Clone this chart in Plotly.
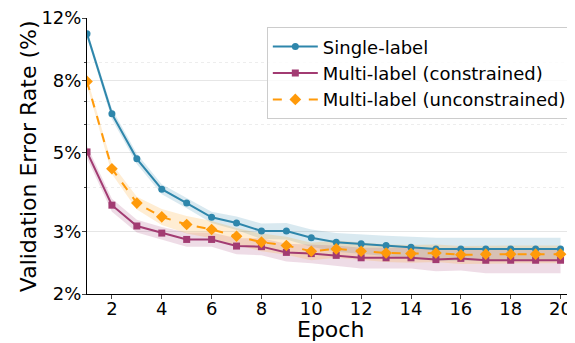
import math
import plotly.graph_objects as go

epochs = list(range(1, 21))

single_label = [10.83, 6.44, 4.81, 3.95, 3.61, 3.29, 3.17, 3.01, 3.01, 2.88,
                2.80, 2.77, 2.74, 2.71, 2.68, 2.68, 2.68, 2.68, 2.68, 2.68]
single_std = [0.25, 0.22, 0.16, 0.13, 0.12, 0.12, 0.14, 0.15, 0.16, 0.16,
              0.17, 0.17, 0.18, 0.19, 0.2, 0.2, 0.2, 0.2, 0.2, 0.2]

multi_con = [5.03, 3.56, 3.11, 2.97, 2.85, 2.85, 2.73, 2.72, 2.62, 2.60,
             2.57, 2.53, 2.53, 2.53, 2.50, 2.52, 2.49, 2.49, 2.49, 2.49]
multi_con_std = [0.2, 0.15, 0.13, 0.12, 0.13, 0.13, 0.14, 0.15, 0.15, 0.16,
                 0.17, 0.17, 0.17, 0.17, 0.18, 0.19, 0.2, 0.2, 0.2, 0.2]

multi_uncon = [7.95, 4.51, 3.61, 3.30, 3.14, 3.04, 2.91, 2.80, 2.74, 2.64,
               2.68, 2.64, 2.61, 2.60, 2.61, 2.58, 2.59, 2.59, 2.59, 2.59]
multi_uncon_std = [0.2, 0.15, 0.15, 0.17, 0.18, 0.17, 0.16, 0.16, 0.16, 0.15,
                   0.15, 0.15, 0.15, 0.15, 0.15, 0.15, 0.15, 0.15, 0.15, 0.15]

y_major = [2, 3, 5, 8, 12]
y_major_text = ["2%", "3%", "5%", "8%", "12%"]
y_minor = [4, 6, 7, 9]
x_ticks = [2, 4, 6, 8, 10, 12, 14, 16, 18, 20]

series = [
    ("Single-label", single_label, single_std, "#2E86AB", "circle", 7, "solid"),
    ("Multi-label (constrained)", multi_con, multi_con_std, "#A23B72", "square", 7, "solid"),
    ("Multi-label (unconstrained)", multi_uncon, multi_uncon_std, "#FF9A0A", "diamond", 9, "dash"),
]

def rgba(hexc, a):
    h = hexc.lstrip("#")
    r, g, b = int(h[0:2], 16), int(h[2:4], 16), int(h[4:6], 16)
    return f"rgba({r},{g},{b},{a})"

fig = go.Figure()
for name, mean, std, color, sym, msize, dash in series:
    upper = [m + s for m, s in zip(mean, std)]
    lower = [m - s for m, s in zip(mean, std)]
    fig.add_trace(go.Scatter(x=epochs, y=upper, mode="lines", line=dict(width=0),
                             showlegend=False, hoverinfo="skip"))
    fig.add_trace(go.Scatter(x=epochs, y=lower, mode="lines", line=dict(width=0),
                             fill="tonexty", fillcolor=rgba(color, 0.18),
                             showlegend=False, hoverinfo="skip"))
for name, mean, std, color, sym, msize, dash in series:
    fig.add_trace(go.Scatter(x=epochs, y=mean, mode="lines+markers", name=name,
                             line=dict(color=color, width=2, dash=dash),
                             marker=dict(symbol=sym, size=msize, color=color)))

fig.update_layout(
    width=575, height=343,
    margin=dict(l=79, r=10, t=9.5, b=57, autoexpand=False),
    paper_bgcolor="white", plot_bgcolor="white",
    font=dict(family="DejaVu Sans", size=18, color="black"),
    legend=dict(x=0.37, y=0.966, xanchor="left", yanchor="top", traceorder="normal",
                bgcolor="rgba(255,255,255,0.8)", bordercolor="#cccccc", borderwidth=1,
                font=dict(size=18), tracegroupgap=0, itemwidth=45),
    showlegend=True,
    annotations=[
        dict(text="Epoch", xref="paper", yref="paper", x=0.5, y=-0.130,
             xanchor="center", yanchor="middle", showarrow=False, font=dict(size=22)),
        dict(text="Validation Error Rate (%)", xref="paper", yref="paper",
             x=-0.121, y=0.5, xanchor="center", yanchor="middle", textangle=-90,
             showarrow=False, font=dict(size=22)),
    ],
)
fig.update_xaxes(
    range=[1, 20.5], tickvals=x_ticks, ticks="outside", ticklen=4, tickwidth=1,
    showline=True, linecolor="black", linewidth=1, showgrid=False, zeroline=False,
    tickfont=dict(size=18), automargin=False, ticklabelstandoff=-6,
    ticklabeloverflow="allow",
)
fig.update_yaxes(
    type="log", range=[math.log10(2) - 1e-5, math.log10(12) + 1e-5],
    tickvals=y_major, ticktext=y_major_text,
    ticks="outside", ticklen=4, tickwidth=1, showline=True, linecolor="black", linewidth=1,
    showgrid=True, gridcolor="#e6e6e6", gridwidth=1, zeroline=False,
    tickfont=dict(size=18), automargin=False, ticklabelstandoff=-3,
    ticklabeloverflow="allow",
    minor=dict(tickvals=y_minor, ticks="outside", ticklen=2, showgrid=True,
               gridcolor="#ededed", griddash="dot", gridwidth=1),
)
fig.write_html("out.html")
